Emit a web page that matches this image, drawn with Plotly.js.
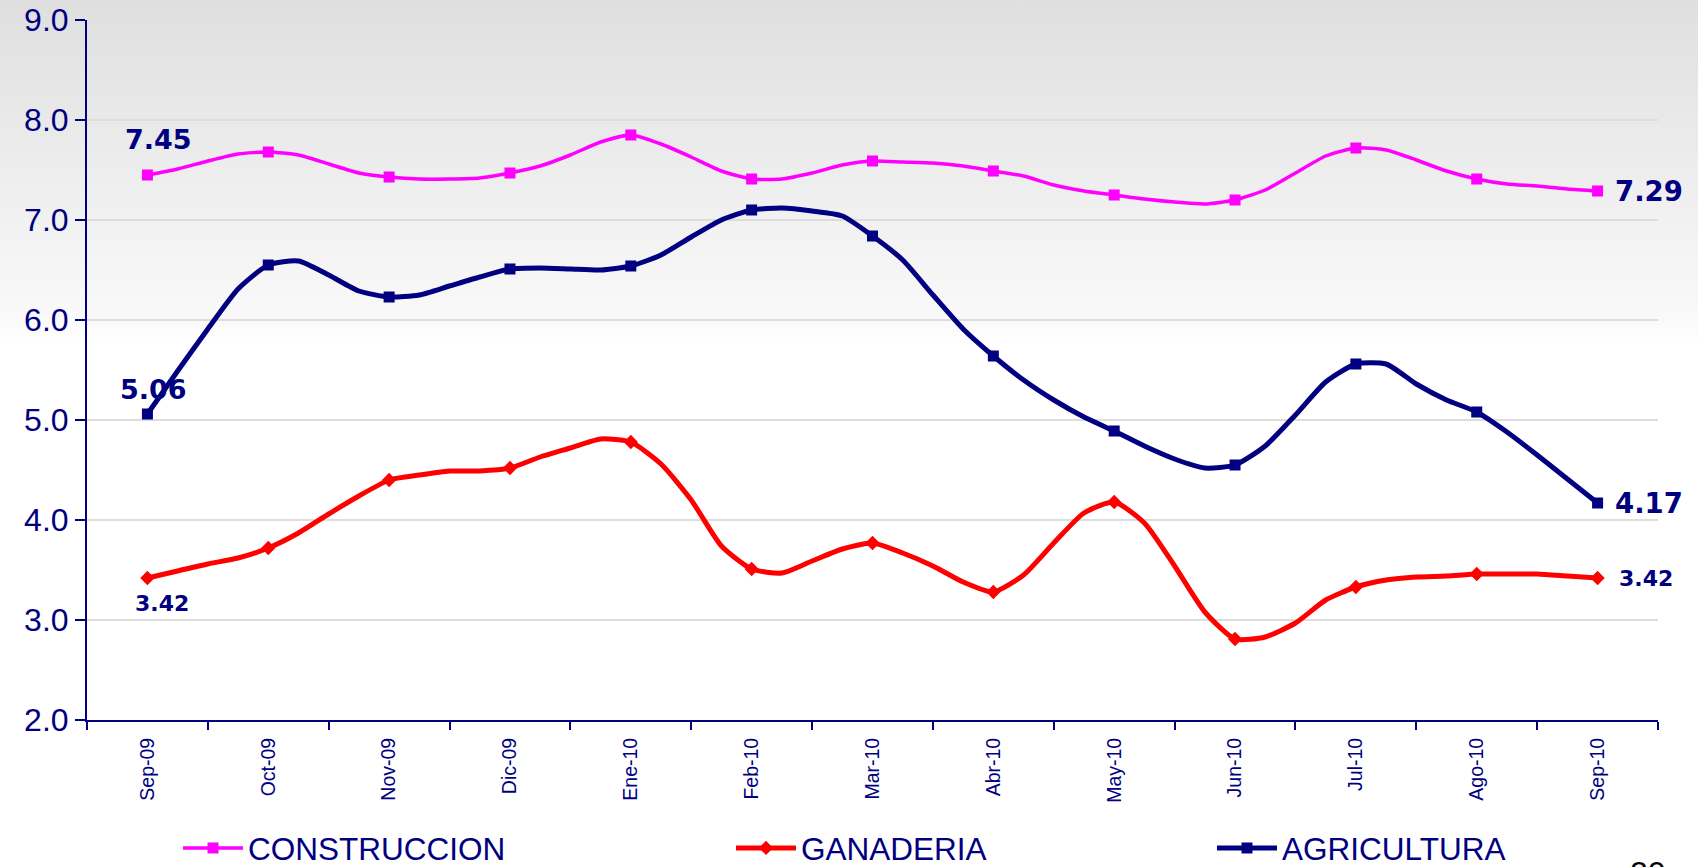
<!DOCTYPE html>
<html>
<head>
<meta charset="utf-8">
<script src="https://cdn.plot.ly/plotly-3.0.1.min.js"></script>
<style>
html,body{margin:0;padding:0;background:#ffffff;}
#chart{width:1698px;height:867px;}
</style>
</head>
<body>
<div id="chart"></div>
<script>
// ---- data (4 readings per month, markers on the monthly ones) ----
const monthLabels = ['Sep-09','Oct-09','Nov-09','Dic-09','Ene-10','Feb-10','Mar-10','Abr-10','May-10','Jun-10','Jul-10','Ago-10','Sep-10'];
const pointsPerMonth = 4;
const seriesNames = ['CONSTRUCCION','GANADERIA','AGRICULTURA'];

const construccion = [
  7.45, 7.51, 7.59, 7.66,
  7.68, 7.65, 7.56, 7.47,
  7.43, 7.41, 7.41, 7.42,
  7.47, 7.54, 7.65, 7.78,
  7.85, 7.76, 7.63, 7.49,
  7.41, 7.41, 7.47, 7.55,
  7.59, 7.58, 7.57, 7.54,
  7.49, 7.44, 7.35, 7.29,
  7.25, 7.21, 7.18, 7.16,
  7.20, 7.30, 7.47, 7.64,
  7.72, 7.70, 7.60, 7.49,
  7.41, 7.36, 7.34, 7.31,
  7.29
];
const ganaderia = [
  3.42, 3.49, 3.56, 3.62,
  3.72, 3.87, 4.06, 4.24,
  4.40, 4.45, 4.49, 4.49,
  4.52, 4.63, 4.72, 4.81,
  4.78, 4.56, 4.20, 3.74,
  3.51, 3.47, 3.59, 3.71,
  3.77, 3.67, 3.54, 3.38,
  3.28, 3.45, 3.77, 4.07,
  4.18, 3.97, 3.54, 3.08,
  2.81, 2.83, 2.97, 3.20,
  3.33, 3.40, 3.43, 3.44,
  3.46, 3.46, 3.46, 3.44,
  3.42
];
const agricultura = [
  5.06, 5.49, 5.91, 6.31,
  6.55, 6.59, 6.45, 6.29,
  6.23, 6.25, 6.34, 6.43,
  6.51, 6.52, 6.51, 6.50,
  6.54, 6.65, 6.83, 7.00,
  7.10, 7.12, 7.09, 7.04,
  6.84, 6.60, 6.25, 5.91,
  5.64, 5.40, 5.20, 5.03,
  4.89, 4.74, 4.61, 4.52,
  4.55, 4.74, 5.05, 5.38,
  5.56, 5.56, 5.36, 5.20,
  5.08, 4.88, 4.65, 4.41,
  4.17
];

// ---- layout constants ----
const W = 1698, H = 867;
const M = {l: 87, r: 40, t: 20, b: 147, autoexpand: false};
const PW = W - M.l - M.r, PH = H - M.t - M.b;
const pxX = p => (p - M.l) / PW;
const pxY = p => (H - M.b - p) / PH;

const NAVY = '#000080';
const PINK = '#FF00FF';
const RED = '#FF0000';
const LABEL_FONT = 'Verdana, "DejaVu Sans", sans-serif';
const AXIS_FONT = 'Arial, "Liberation Sans", sans-serif';

const xs = construccion.map((_, i) => i / pointsPerMonth);
const markerColors = (vals, color) => vals.map((_, i) => (i % pointsPerMonth === 0 ? color : 'rgba(0,0,0,0)'));

function makeTrace(name, vals, color, symbol, width, legendId) {
  return {
    type: 'scatter',
    mode: 'lines+markers',
    name: name,
    x: xs,
    y: vals,
    legend: legendId,
    line: {color: color, width: width, shape: 'spline', smoothing: 0.6},
    marker: {symbol: symbol, size: 11, color: markerColors(vals, color), line: {width: 0}},
    hoverinfo: 'x+y+name'
  };
}

const traces = [
  makeTrace(seriesNames[0], construccion, PINK, 'square', 3.5, 'legend'),
  makeTrace(seriesNames[1], ganaderia, RED, 'diamond', 5, 'legend2'),
  makeTrace(seriesNames[2], agricultura, NAVY, 'square', 5, 'legend3')
];

// ---- background gradient (slide style) ----
const svg = '<svg xmlns="http://www.w3.org/2000/svg" width="' + W + '" height="' + H + '" preserveAspectRatio="none">' +
  '<defs><linearGradient id="g" x1="0" y1="0" x2="0" y2="1">' +
  '<stop offset="0" stop-color="#dfdfdf"/>' +
  '<stop offset="' + (315 / H).toFixed(4) + '" stop-color="#f9f9f9"/>' +
  '<stop offset="' + (345 / H).toFixed(4) + '" stop-color="#ffffff"/>' +
  '<stop offset="1" stop-color="#ffffff"/>' +
  '</linearGradient></defs><rect x="0" y="0" width="' + W + '" height="' + H + '" fill="url(#g)"/></svg>';

// ---- value labels ----
const last = construccion.length - 1;
const lastX = last / pointsPerMonth;
function valLabel(x, y, size, anchor, xshift, yshift) {
  return {
    xref: 'x', yref: 'y', x: x, y: y,
    text: y.toFixed(2),
    showarrow: false,
    xanchor: anchor, yanchor: 'middle',
    xshift: xshift, yshift: yshift,
    font: {family: LABEL_FONT, size: size, color: NAVY, weight: 'bold'}
  };
}

const annotations = [
  valLabel(0, construccion[0], 27, 'center', 11, 36),
  valLabel(0, agricultura[0], 27, 'center', 6, 25),
  valLabel(0, ganaderia[0], 22, 'center', 15, -25),
  valLabel(lastX, construccion[last], 27.5, 'left', 15, 0),
  valLabel(lastX, agricultura[last], 27.5, 'left', 15, 0),
  valLabel(lastX, ganaderia[last], 22, 'left', 19, 0),
  {
    xref: 'paper', yref: 'paper', x: pxX(1648), y: pxY(853),
    text: '20', showarrow: false, xanchor: 'center', yanchor: 'top',
    font: {family: AXIS_FONT, size: 32, color: '#000000'}
  }
];

function legendAt(px) {
  return {
    x: pxX(px), y: pxY(848), xanchor: 'left', yanchor: 'middle',
    orientation: 'h', bgcolor: 'rgba(0,0,0,0)', borderwidth: 0,
    itemwidth: 60,
    font: {family: AXIS_FONT, size: 31.5, color: NAVY}
  };
}

const boundaries = monthLabels.concat(['']).map((_, i) => i - 0.5);

const layout = {
  width: W, height: H,
  margin: M,
  paper_bgcolor: '#ffffff',
  plot_bgcolor: 'rgba(0,0,0,0)',
  showlegend: true,
  legend: legendAt(178),
  legend2: legendAt(731),
  legend3: legendAt(1212),
  images: [{
    source: 'data:image/svg+xml;charset=utf-8,' + encodeURIComponent(svg),
    xref: 'paper', yref: 'paper',
    x: pxX(0), y: pxY(0), sizex: W / PW, sizey: H / PH,
    xanchor: 'left', yanchor: 'top', sizing: 'stretch', layer: 'below'
  }],
  xaxis: {
    range: [-0.5, monthLabels.length - 0.5],
    tickmode: 'array',
    tickvals: monthLabels.map((_, i) => i),
    ticktext: monthLabels,
    tickangle: -90,
    ticks: '',
    ticklabelstandoff: 8,
    showline: true, linecolor: NAVY, linewidth: 2,
    showgrid: false, zeroline: false,
    tickfont: {family: AXIS_FONT, size: 19.5, color: NAVY},
    minor: {tickmode: 'array', tickvals: boundaries, ticks: 'outside', ticklen: 8, tickwidth: 2, tickcolor: NAVY, showgrid: false},
    fixedrange: true
  },
  yaxis: {
    range: [2, 9], tick0: 2, dtick: 1, tickformat: '.1f',
    ticks: 'outside', ticklen: 10, tickwidth: 2, tickcolor: NAVY,
    showline: true, linecolor: NAVY, linewidth: 2,
    showgrid: true, gridcolor: '#dddddd', gridwidth: 2,
    zeroline: false,
    tickfont: {family: AXIS_FONT, size: 32, color: NAVY},
    fixedrange: true
  },
  annotations: annotations
};

Plotly.newPlot('chart', traces, layout, {displayModeBar: false, staticPlot: true});
</script>
</body>
</html>
